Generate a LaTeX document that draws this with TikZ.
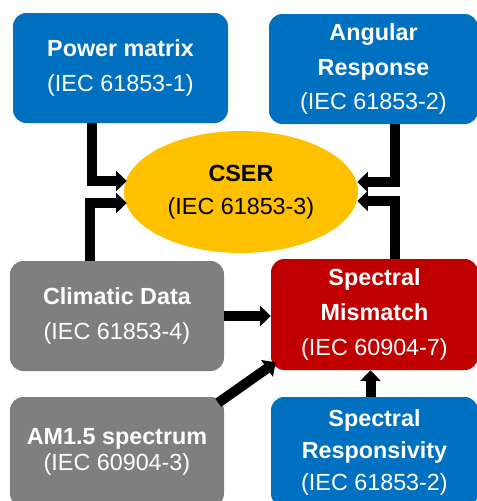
\documentclass[tikz,border=0pt]{standalone}
\usepackage{fontspec}
\setmainfont{Liberation Sans}
\usetikzlibrary{positioning,calc,shapes,arrows.meta}
\definecolor{iecblue}{RGB}{0,112,192}
\definecolor{iecgray}{RGB}{127,127,127}
\definecolor{iecred}{RGB}{192,0,0}
\definecolor{iecyellow}{RGB}{255,192,0}

\begin{document}
\begin{tikzpicture}[x=0.75pt, y=-0.75pt,
  flow/.style ={-{Triangle[width=15pt,length=8pt]}, line width=7.5pt, black},
  block/.style ={ rectangle, rounded corners=10pt, draw=none, text = white,
  align=center, inner sep=0pt, minimum height = 82.5pt,
  font=\fontsize{17.5}{26}\selectfont},
  target/.style ={ ellipse, fill=iecyellow, text = black, align=center,
  inner sep=0pt, minimum width = 175.5pt, minimum height = 91.5pt,
  font=\fontsize{17.5}{25}\selectfont}]
  \useasboundingbox (0,0) rectangle (476,501);
  \node[block, fill=iecblue, minimum width=161.25pt] (pm) at (120.5,68)
  {\textbf{Power matrix}\\(IEC 61853-1)};
  \node[block, fill=iecblue, minimum width=156.75pt] (ar) at (373.5,69)
  {\textbf{Angular}\\\textbf{Response}\\(IEC 61853-2)};
  \node[target] (cser) at (241,192)
  {\textbf{CSER}\\(IEC 61853-3)};
  \node[block, fill=iecgray, minimum width=160.5pt] (cd) at (117,316)
  {\textbf{Climatic Data}\\(IEC 61853-4)};
  \node[block, fill=iecred, minimum width=155.25pt, minimum height=83.25pt] (sm) at (374.5,314.5)
  {\textbf{Spectral}\\\textbf{Mismatch}\\(IEC 60904-7)};
  \node[block, fill=iecgray, minimum width=160.5pt, font=\fontsize{17.5}{19}\selectfont] (am) at (117,452)
  {\textbf{AM1.5 spectrum}\\(IEC 60904-3)};
  \node[block, fill=iecblue, minimum width=155.25pt, font=\fontsize{17.5}{24}\selectfont] (sr) at (374.5,452)
  {\textbf{Spectral}\\\textbf{Responsivity}\\(IEC 61853-2)};
  \draw[flow] ($(pm.south)+(-28.5,0)$) |- ($(cser.west)+(3,-11)$);
  \draw[flow] ($(cd.north)+(-27,0)$) |- ($(cser.west)+(3,11)$);
  \draw[flow] ($(ar.south)+(21.5,0)$) |- ($(cser.east)+(-1,-10)$);
  \draw[flow] ($(sm.north)+(20.5,0)$) |- ($(cser.east)+(-1,9)$);
  \draw[flow] (cd.east) -- (cd.east -| sm.west);
  \draw[flow] ($(am.north east)+(-6,6)$) -- ($(sm.south west)+(5,-8)$);
  \draw[flow] ($(sr.north)+(-4,0)$) -- ($(sm.south)+(-4,0)$);
\end{tikzpicture}
\end{document}
